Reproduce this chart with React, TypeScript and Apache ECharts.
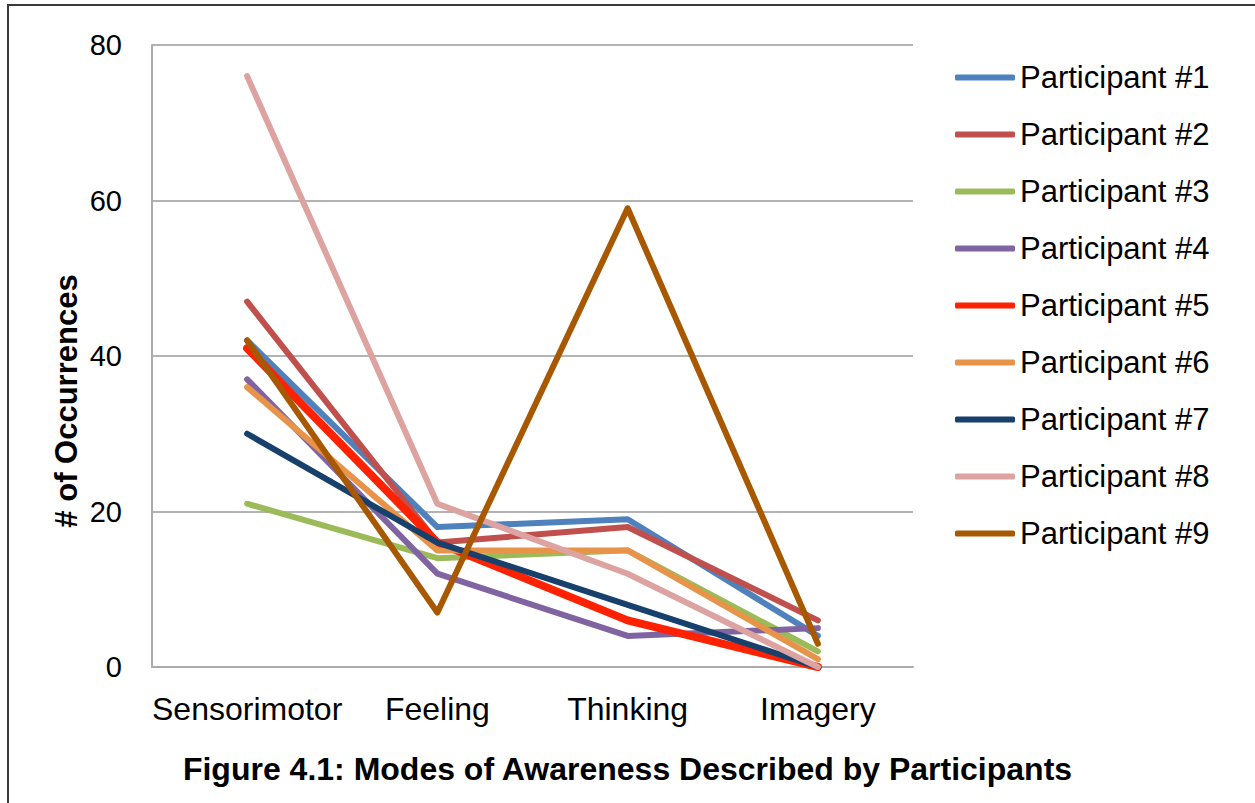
import React, { useEffect, useRef } from "react";
import * as echarts from "echarts";

const categories = ["Sensorimotor", "Feeling", "Thinking", "Imagery"];
const seriesNames = [
  "Participant #1",
  "Participant #2",
  "Participant #3",
  "Participant #4",
  "Participant #5",
  "Participant #6",
  "Participant #7",
  "Participant #8",
  "Participant #9",
];
const p1 = [42, 18, 19, 4];
const p2 = [47, 16, 18, 6];
const p3 = [21, 14, 15, 2];
const p4 = [37, 12, 4, 5];
const p5 = [41, 16, 6, 0];
const p6 = [36, 15, 15, 1];
const p7 = [30, 16, 8, 0];
const p8 = [76, 21, 12, 0];
const p9 = [42, 7, 59, 3];
const seriesValues = [p1, p2, p3, p4, p5, p6, p7, p8, p9];
const colors = [
  "#4F81BD",
  "#C0504D",
  "#9BBB59",
  "#8064A2",
  "#FF2200",
  "#E8934A",
  "#17406D",
  "#DDA3A1",
  "#A85800",
];
const lineWidths = [6, 6, 6, 6, 8, 6, 6, 6, 6];
const yTicks = { min: 0, max: 80, interval: 20 };
const titleText = "Figure 4.1: Modes of Awareness Described by Participants";
const yTitle = "# of Occurrences";

const FONT = "'Liberation Sans', Arial, Helvetica, sans-serif";

export default function App() {
  const ref = useRef<HTMLDivElement>(null);
  useEffect(() => {
    if (!ref.current) return;
    const chart = echarts.init(ref.current, null, { renderer: "svg" });
    chart.setOption({
      animation: false,
      backgroundColor: "#ffffff",
      textStyle: { fontFamily: FONT, color: "#000" },
      title: {
        text: titleText,
        left: "center",
        top: 748,
        textStyle: { fontFamily: FONT, fontSize: 32, fontWeight: "bold", color: "#000" },
      },
      legend: {
        orient: "vertical",
        left: 950,
        top: 57,
        icon: "roundRect",
        itemWidth: 60,
        itemHeight: 6,
        itemGap: 26,
        textStyle: { fontFamily: FONT, fontSize: 31, color: "#000", padding: [0, 0, 0, 0] },
        data: seriesNames,
      },
      grid: { left: 152, right: 342, top: 45, bottom: 136, containLabel: false },
      xAxis: {
        type: "category",
        data: categories,
        boundaryGap: true,
        axisLine: { show: true, lineStyle: { color: "#ababab", width: 2 } },
        axisTick: { show: false },
        axisLabel: { interval: 0, fontFamily: FONT, fontSize: 32, color: "#000", margin: 26 },
      },
      yAxis: {
        type: "value",
        min: yTicks.min,
        max: yTicks.max,
        interval: yTicks.interval,
        axisLine: { show: true, lineStyle: { color: "#ababab", width: 2 } },
        axisTick: { show: false },
        axisLabel: { fontFamily: FONT, fontSize: 29, color: "#000", margin: 30 },
        splitLine: { show: true, lineStyle: { color: "#b3b3b3", width: 2 } },
      },
      series: seriesNames.map((name, i) => ({
        name,
        type: "line",
        data: seriesValues[i],
        symbol: "none",
        showSymbol: false,
        color: colors[i],
        lineStyle: { color: colors[i], width: lineWidths[i], cap: "round", join: "round" },
        itemStyle: { color: colors[i] },
      })),
      graphic: [
        {
          type: "polyline",
          shape: { points: [[8, 803], [8, 5], [1255, 5]] },
          style: { stroke: "#3a3a3a", lineWidth: 2, fill: null },
          silent: true,
        },
        {
          type: "text",
          x: 66,
          y: 401,
          rotation: Math.PI / 2,
          style: {
            text: yTitle,
            fontFamily: FONT,
            fontSize: 31,
            fontWeight: "bold",
            fill: "#000",
            align: "center",
            verticalAlign: "middle",
          },
          silent: true,
        },
      ],
    });
    return () => chart.dispose();
  }, []);
  return (
    <div
      ref={ref}
      style={{ position: "absolute", left: 0, top: 0, width: 1255, height: 803 }}
    />
  );
}
